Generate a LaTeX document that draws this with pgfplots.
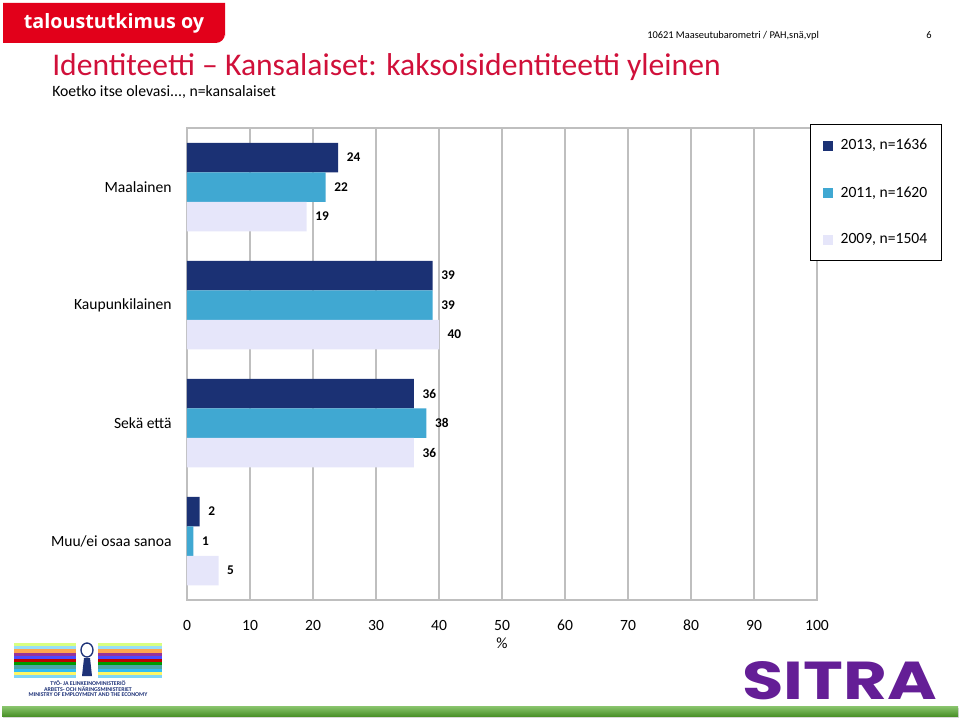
\documentclass[border=0pt]{standalone}
\usepackage{graphicx}
\usepackage{pgfplots}
\pgfplotsset{compat=1.18}
\usepackage{fontspec}
\setmainfont{Carlito}
\newfontfamily\logofont{Open Sans}
\newfontfamily\sitrafont{Poppins}
\definecolor{cA}{RGB}{27,49,116}
\definecolor{cB}{RGB}{64,168,210}
\definecolor{cC}{RGB}{230,230,250}
\definecolor{titlered}{RGB}{208,16,58}
\definecolor{logored}{RGB}{226,0,26}
\definecolor{gridgray}{RGB}{191,191,191}
\definecolor{sitra}{RGB}{100,30,150}
\definecolor{mingreen}{RGB}{88,172,48}
\definecolor{minnavy}{RGB}{30,50,120}
\begin{document}
\begin{tikzpicture}
\begin{scope}[x=0.75pt,y=-0.75pt]
\path[use as bounding box] (0,0) rectangle (960,724);
% logo
\fill[logored, rounded corners=0pt] (3,3) -- (225,3) -- (225,36) [rounded corners=7pt]-- (225,43) [rounded corners=0pt] -- (3,43) -- cycle;
\node[anchor=center, inner sep=0, text=white] at (114,23) {\logofont\bfseries\fontsize{14.8}{16}\selectfont taloustutkimus oy};
% header
\node[anchor=base west, inner sep=0] at (647,39) {\fontsize{7.8}{9}\selectfont 10621 Maaseutubarometri / PAH,snä,vpl};
\node[anchor=base, inner sep=0] at (929,39) {\fontsize{7.8}{9}\selectfont 6};
% title
\node[anchor=base west, inner sep=0, text=titlered] at (52,75) {\fontsize{23.7}{28}\selectfont Identiteetti – Kansalaiset: kaksoisidentiteetti yleinen};
\node[anchor=base west, inner sep=0] at (52,96) {\fontsize{11.8}{14}\selectfont Koetko itse olevasi..., n=kansalaiset};
% x label
\node[anchor=center, inner sep=0] at (502,643) {\fontsize{11.7}{14}\selectfont \%};
% ministry logo
\foreach \c [count=\i] in {green!30!yellow!50,cyan!40,orange!70,violet!80,blue!70,red!75!black,green!60!black,teal!70,cyan!80,yellow!60,cyan!50} {
  \fill[\c] (14,{643+(\i-1)*3.2}) rectangle (162,{643+\i*3.2});
}
\fill[white] (76,642) rectangle (98,679);
\draw[minnavy, line width=1pt] (87,650) ellipse (6 and 7);
\fill[minnavy] (84,658) -- (90,658) -- (92,676) -- (82,676) -- cycle;
\node[anchor=center, inner sep=0, text=minnavy] at (88,683) {\fontsize{4.4}{5}\selectfont\bfseries TYÖ- JA ELINKEINOMINISTERIÖ};
\node[anchor=center, inner sep=0, text=minnavy] at (88,689) {\fontsize{4.4}{5}\selectfont\bfseries ARBETS- OCH NÄRINGSMINISTERIET};
\node[anchor=center, inner sep=0, text=minnavy] at (88,695) {\fontsize{4.4}{5}\selectfont\bfseries MINISTRY OF EMPLOYMENT AND THE ECONOMY};
% SITRA
\node[anchor=south west, inner sep=0, text=sitra] at (742,700) {\resizebox{146pt}{28.5pt}{\sitrafont\bfseries SITRA}};
% green bar
\fill[gray!30] (3,708) rectangle (959,718);
\shade[top color=mingreen!70!white, bottom color=mingreen!85!black] (2,706) rectangle (958,716);
\end{scope}
\begin{axis}[
  at={(140.25pt,-450pt)}, anchor=south west,
  scale only axis, width=472.5pt, height=354pt,
  xbar, bar width=0.25,
  xmin=0, xmax=100, ymin=-0.5, ymax=3.5, y dir=reverse,
  xtick={0,10,...,100},
  ytick={0,1,2,3},
  yticklabels={Maalainen,Kaupunkilainen,Sekä että,Muu/ei osaa sanoa},
  major tick length=0pt,
  xmajorgrids, grid style={gridgray, line width=1.1pt},
  axis line style={gridgray, line width=1.1pt},
  /pgf/number format/assume math mode=true,
  tick label style={font=\fontsize{11.7}{14}\selectfont},
  xticklabel style={anchor=base, yshift=-23pt},
  yticklabel style={xshift=-8pt},
  point meta=x,
  nodes near coords,
  nodes near coords style={font=\bfseries\fontsize{10}{12}\selectfont, anchor=west, xshift=3pt},
  legend style={at={(0.989,1.008)}, anchor=north west, draw=black, line width=0.8pt,
    font=\fontsize{11.7}{14}\selectfont, row sep=22pt, inner xsep=9pt, inner ysep=9pt,
    /tikz/every odd column/.append style={column sep=4pt}},
  legend cell align=left,
  legend image code/.code={\fill[#1] (0pt,-3.75pt) rectangle (7.5pt,3.75pt);},
]
\addplot[fill=cA, draw=none, bar shift=-0.25] coordinates {(24,0) (39,1) (36,2) (2,3)};
\addplot[fill=cB, draw=none, bar shift=0] coordinates {(22,0) (39,1) (38,2) (1,3)};
\addplot[fill=cC, draw=none, bar shift=0.25] coordinates {(19,0) (40,1) (36,2) (5,3)};
\legend{{2013, n=1636},{2011, n=1620},{2009, n=1504}}
\end{axis}
\end{tikzpicture}
\end{document}
